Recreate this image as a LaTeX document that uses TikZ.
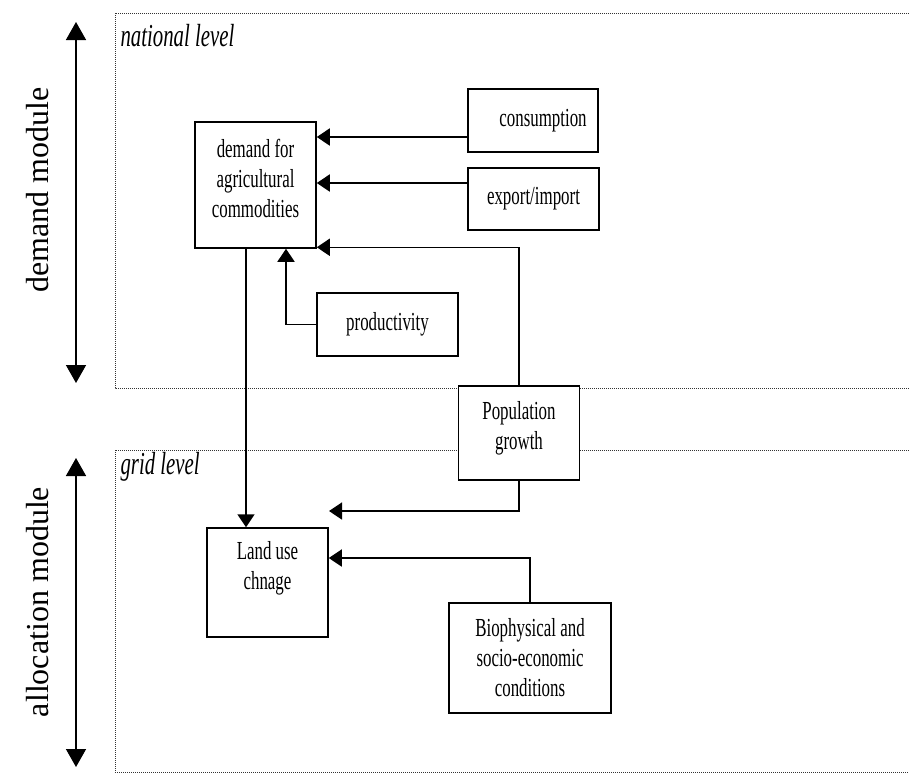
\documentclass[tikz,border=0pt]{standalone}
\usepackage{fontspec}
\setmainfont{Liberation Serif}[FakeStretch=0.65]
\newfontfamily\sidefont{Liberation Serif}
\usepackage{tikz}
\usetikzlibrary{arrows.meta}
\tikzset{>={Triangle[length=13pt,width=17pt]}}
\tikzstyle{box}=[draw=black,line width=1.5pt,fill=white,align=center,inner sep=0,font=\fontsize{26}{30}\selectfont]
\tikzstyle{boxtext}=[align=center,inner sep=0,font=\fontsize{26}{30}\selectfont]
\tikzstyle{level}=[anchor=west,font=\fontsize{32}{34}\selectfont\itshape]
\tikzstyle{frame}=[densely dotted,line width=1pt,black!80]
\tikzstyle{module}=[rotate=90,font=\sidefont\fontsize{32}{34}\selectfont]
\tikzstyle{flow}=[->,line width=1.5pt]

\begin{document}
\begin{tikzpicture}[x=1pt,y=-1pt]
		\useasboundingbox (0,0) rectangle (909,774);
		
		\draw[frame] (909,13) -- (115,13) -- (115,388) -- (909,388);
		\draw[frame] (909,450) -- (115,450) -- (115,772) -- (909,772);
		\node[level] (natlvl) at (117,36) {national level};
		\node[level] (gridlvl) at (117,467) {grid level};
		
		\node[module] (demmod) at (38,190) {demand module};
		\node[module] (allmod) at (38,602) {allocation module};
		\coordinate (dmtop) at (76,22);
		\coordinate (dmbot) at (76,383);
		\coordinate (amtop) at (76,458);
		\coordinate (ambot) at (76,767);
		\draw[{Triangle[length=18pt,width=20pt]}-{Triangle[length=18pt,width=20pt]},line width=1.5pt] (dmtop) -- (dmbot);
		\draw[{Triangle[length=18pt,width=20pt]}-{Triangle[length=18pt,width=20pt]},line width=1.5pt] (amtop) -- (ambot);
		
		\node[box, minimum width=121pt, minimum height=126pt, label={[boxtext,yshift=7pt]center:demand for\\agricultural\\commodities}] (dm) at (255.5,185) {};
		\node[box, minimum width=130pt, minimum height=63pt, label={[boxtext,xshift=10pt]center:consumption}] (cons) at (533,120.5) {};
		\node[box, minimum width=131pt, minimum height=62pt] (expimp) at (533.5,199) {export/import};
		\node[box, minimum width=141pt, minimum height=63pt] (prod) at (387.5,324.5) {productivity};
		\node[box, minimum width=121pt, minimum height=94pt, label={[boxtext,yshift=5pt]center:Population\\growth}] (pop) at (519,433) {};
		\node[box, minimum width=121pt, minimum height=109pt, label={[boxtext,yshift=14.5pt]center:Land use\\chnage}] (luc) at (267.5,582.5) {};
		\node[box, minimum width=162pt, minimum height=110pt] (bio) at (530,658) {Biophysical and\\socio-economic\\conditions};
		\coordinate (popend) at (329,511);
		
		\draw[flow] (cons.west) ++(0,16.5) coordinate (c1) -- (c1 -| dm.east);
		\draw[flow] (expimp.west) ++(0,-16) coordinate (e1) -- (e1 -| dm.east);
		\draw[flow] (pop.north) |- ([yshift=1.5pt]dm.south east);
		\draw[flow] (prod.west) -| ([xshift=30.5pt]dm.south);
		\draw[flow] (dm.south) ++(-9.5,0) coordinate (d1) -- (d1 |- luc.north);
		\draw[flow] (pop.south) |- (popend);
		\draw[flow] (bio.north) |- ([yshift=24.5pt]luc.east);
	\end{tikzpicture}
\end{document}
